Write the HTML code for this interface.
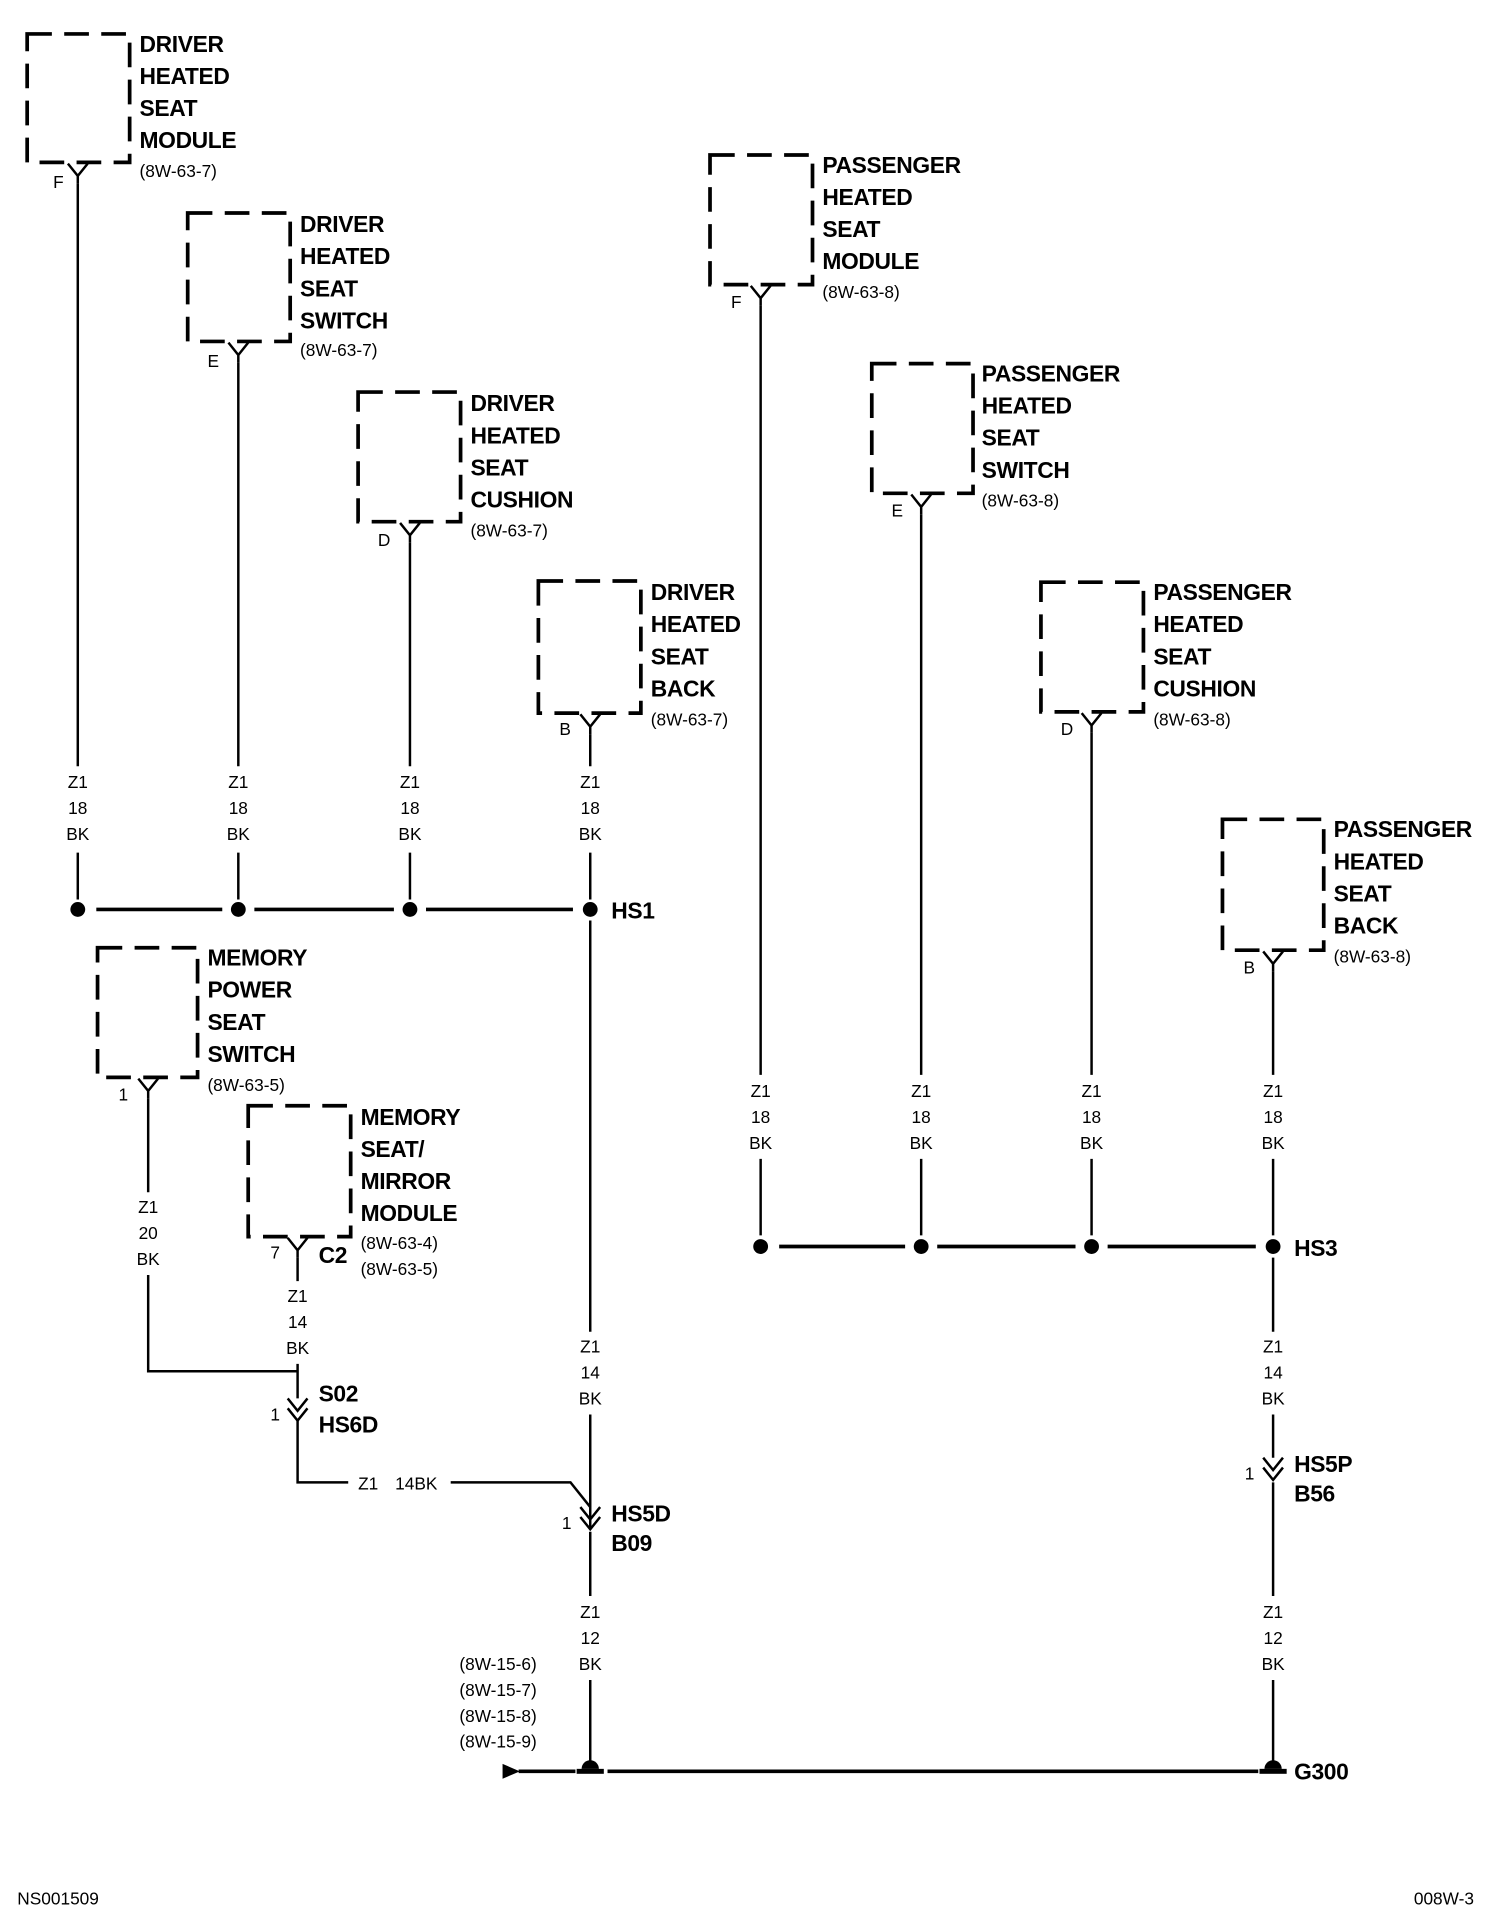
<!DOCTYPE html>
<html><head><meta charset="utf-8"><style>
html,body{margin:0;padding:0;background:#fff}
svg{display:block}
.b{font-family:"Liberation Sans",sans-serif;font-weight:bold;font-size:18.5px;letter-spacing:-0.3px}
.s{font-family:"Liberation Sans",sans-serif;font-size:14px}
.box{fill:none;stroke:#000;stroke-width:3;stroke-dasharray:20 10}
.w{stroke:#000;stroke-width:2;fill:none}
.h{stroke:#000;stroke-width:3;fill:none}
</style></head><body>
<svg width="1504" height="1930" viewBox="0 0 1218 1562" xmlns="http://www.w3.org/2000/svg">
<defs>
<g id="y"><path d="M-8,0 L0,10 L8,0 M0,10 L0,16" class="w"/></g>
<g id="dd"><path d="M-8,-12 L0,-2 L8,-12 M-8,-4 L0,6 L8,-4" class="w"/></g>
</defs>
<g dominant-baseline="central">
<rect class="box" x="22" y="27" width="83" height="104"/>
<rect class="box" x="152" y="172" width="83" height="104"/>
<rect class="box" x="290" y="317" width="83" height="105"/>
<rect class="box" x="436" y="470" width="83" height="107"/>
<rect class="box" x="575" y="125" width="83" height="105"/>
<rect class="box" x="706" y="294" width="82" height="105"/>
<rect class="box" x="843" y="471" width="83" height="105"/>
<rect class="box" x="990" y="663" width="82" height="106"/>
<rect class="box" x="79" y="767" width="81" height="105"/>
<rect class="box" x="201" y="895" width="83" height="106"/>

<g class="b">
<text x="113" y="35">DRIVER</text><text x="113" y="61">HEATED</text><text x="113" y="87">SEAT</text><text x="113" y="113">MODULE</text>
<text x="243" y="181">DRIVER</text><text x="243" y="207">HEATED</text><text x="243" y="233">SEAT</text><text x="243" y="259">SWITCH</text>
<text x="381" y="326">DRIVER</text><text x="381" y="352">HEATED</text><text x="381" y="378">SEAT</text><text x="381" y="404">CUSHION</text>
<text x="527" y="479">DRIVER</text><text x="527" y="505">HEATED</text><text x="527" y="531">SEAT</text><text x="527" y="557">BACK</text>
<text x="666" y="133">PASSENGER</text><text x="666" y="159">HEATED</text><text x="666" y="185">SEAT</text><text x="666" y="211">MODULE</text>
<text x="795" y="302">PASSENGER</text><text x="795" y="328">HEATED</text><text x="795" y="354">SEAT</text><text x="795" y="380">SWITCH</text>
<text x="934" y="479">PASSENGER</text><text x="934" y="505">HEATED</text><text x="934" y="531">SEAT</text><text x="934" y="557">CUSHION</text>
<text x="1080" y="671">PASSENGER</text><text x="1080" y="697">HEATED</text><text x="1080" y="723">SEAT</text><text x="1080" y="749">BACK</text>
<text x="168" y="775">MEMORY</text><text x="168" y="801">POWER</text><text x="168" y="827">SEAT</text><text x="168" y="853">SWITCH</text>
<text x="292" y="904">MEMORY</text><text x="292" y="930">SEAT/</text><text x="292" y="956">MIRROR</text><text x="292" y="982">MODULE</text>
<text x="258" y="1016">C2</text>
<text x="495" y="737">HS1</text>
<text x="1048" y="1010">HS3</text>
<text x="258" y="1128">S02</text><text x="258" y="1153">HS6D</text>
<text x="495" y="1225">HS5D</text><text x="495" y="1249">B09</text>
<text x="1048" y="1185">HS5P</text><text x="1048" y="1209">B56</text>
<text x="1048" y="1434">G300</text>
</g>
<g class="s">
<text x="113" y="138">(8W-63-7)</text>
<text x="243" y="283">(8W-63-7)</text>
<text x="381" y="429">(8W-63-7)</text>
<text x="527" y="582">(8W-63-7)</text>
<text x="666" y="236">(8W-63-8)</text>
<text x="795" y="405">(8W-63-8)</text>
<text x="934" y="582">(8W-63-8)</text>
<text x="1080" y="774">(8W-63-8)</text>
<text x="168" y="878">(8W-63-5)</text>
<text x="292" y="1006">(8W-63-4)</text><text x="292" y="1027">(8W-63-5)</text>
<text x="43" y="147">F</text><text x="168" y="292">E</text><text x="306" y="437">D</text><text x="453" y="590">B</text>
<text x="592" y="244">F</text><text x="722" y="413">E</text><text x="859" y="590">D</text><text x="1007" y="783">B</text>
<text x="96" y="886">1</text><text x="219" y="1014">7</text>
<text x="219" y="1145">1</text><text x="455" y="1233">1</text><text x="1008" y="1193">1</text>
<text x="372" y="1347">(8W-15-6)</text><text x="372" y="1368">(8W-15-7)</text><text x="372" y="1389">(8W-15-8)</text><text x="372" y="1410">(8W-15-9)</text>
<text x="14" y="1537">NS001509</text>
<text x="1145" y="1537">008W-3</text>
<text x="290" y="1201">Z1</text><text x="320" y="1201">14BK</text>
</g>
<g class="s" text-anchor="middle">
<text x="63" y="633">Z1</text><text x="63" y="654">18</text><text x="63" y="675">BK</text>
<text x="193" y="633">Z1</text><text x="193" y="654">18</text><text x="193" y="675">BK</text>
<text x="332" y="633">Z1</text><text x="332" y="654">18</text><text x="332" y="675">BK</text>
<text x="478" y="633">Z1</text><text x="478" y="654">18</text><text x="478" y="675">BK</text>
<text x="616" y="883">Z1</text><text x="616" y="904">18</text><text x="616" y="925">BK</text>
<text x="746" y="883">Z1</text><text x="746" y="904">18</text><text x="746" y="925">BK</text>
<text x="884" y="883">Z1</text><text x="884" y="904">18</text><text x="884" y="925">BK</text>
<text x="1031" y="883">Z1</text><text x="1031" y="904">18</text><text x="1031" y="925">BK</text>
<text x="120" y="977">Z1</text><text x="120" y="998">20</text><text x="120" y="1019">BK</text>
<text x="241" y="1049">Z1</text><text x="241" y="1070">14</text><text x="241" y="1091">BK</text>
<text x="478" y="1090">Z1</text><text x="478" y="1111">14</text><text x="478" y="1132">BK</text>
<text x="1031" y="1090">Z1</text><text x="1031" y="1111">14</text><text x="1031" y="1132">BK</text>
<text x="478" y="1305">Z1</text><text x="478" y="1326">12</text><text x="478" y="1347">BK</text>
<text x="1031" y="1305">Z1</text><text x="1031" y="1326">12</text><text x="1031" y="1347">BK</text>
</g>
</g>

<use href="#y" x="63" y="132"/><use href="#y" x="193" y="277"/><use href="#y" x="332" y="423"/><use href="#y" x="478" y="578"/>
<use href="#y" x="616" y="231"/><use href="#y" x="746" y="400"/><use href="#y" x="884" y="577"/><use href="#y" x="1031" y="770"/>
<use href="#y" x="120" y="873"/><use href="#y" x="241" y="1002"/>
<use href="#dd" x="241" y="1144"/><use href="#dd" x="478" y="1232"/><use href="#dd" x="1031" y="1192"/>

<path class="w" d="M63,148 V620 M63,690 V728 M193,293 V620 M193,690 V728 M332,439 V620 M332,690 V728 M478,594 V620 M478,690 V728"/>
<path class="h" d="M78,736 H180 M206,736 H319 M345,736 H464"/>
<path class="w" d="M478,745 V1078 M478,1145 V1238 M478,1240 V1292 M478,1360 V1426"/>
<path class="w" d="M616,247 V870 M616,938 V1000 M746,416 V870 M746,938 V1000 M884,593 V870 M884,938 V1000 M1031,786 V870 M1031,938 V1000"/>
<path class="h" d="M631,1009 H733 M759,1009 H871 M897,1009 H1017"/>
<path class="w" d="M1031,1018 V1078 M1031,1145 V1180 M1031,1200 V1292 M1031,1360 V1426"/>
<path class="w" d="M120,889 V965 M120,1032 V1110 H241 V1132 M241,1018 V1037 M241,1104 V1132 M241,1150 V1200 H282 M365,1200 H462 L478,1220"/>
<path class="h" d="M420,1434 H466 M492,1434 H1019"/>
<path d="M407,1428 L421,1434 L407,1440 Z" fill="#000"/>

<g fill="#000">
<circle cx="63" cy="736" r="6"/><circle cx="193" cy="736" r="6"/><circle cx="332" cy="736" r="6"/><circle cx="478" cy="736" r="6"/>
<circle cx="616" cy="1009" r="6"/><circle cx="746" cy="1009" r="6"/><circle cx="884" cy="1009" r="6"/><circle cx="1031" cy="1009" r="6"/>
<path d="M471,1432 A7,7 0 0 1 485,1432 Z"/><rect x="467" y="1432" width="22" height="4"/>
<path d="M1024,1432 A7,7 0 0 1 1038,1432 Z"/><rect x="1020" y="1432" width="22" height="4"/>
</g>
</svg>
</body></html>
